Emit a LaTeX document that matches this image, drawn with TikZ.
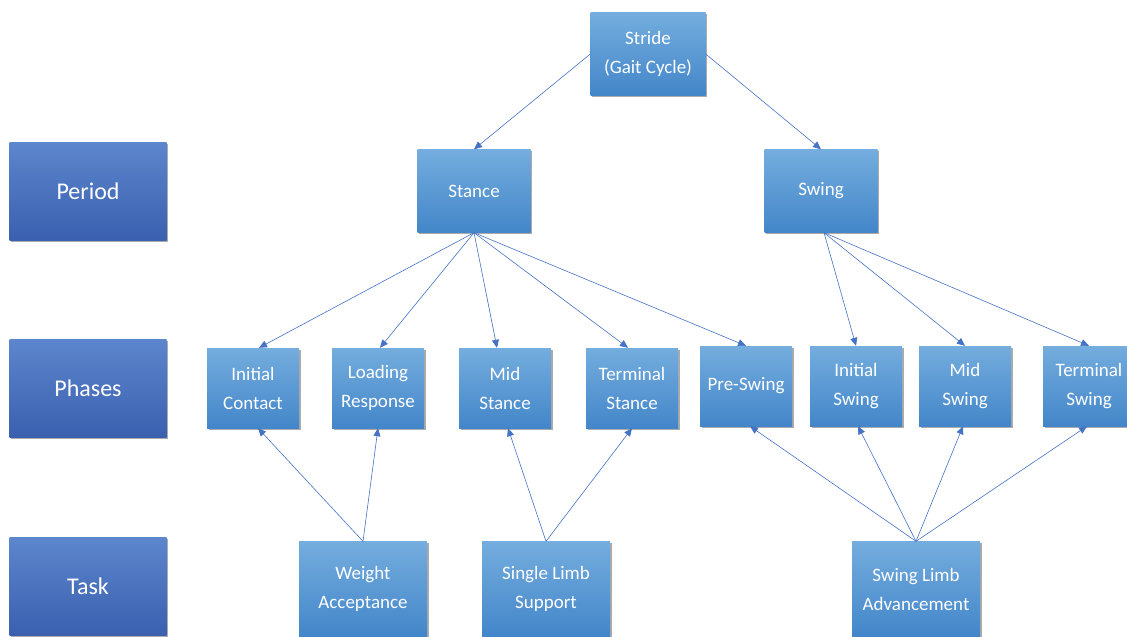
\documentclass[tikz,border=0pt]{standalone}
\usepackage{fontspec}
\setmainfont{Carlito}
\usetikzlibrary{arrows.meta,shadows}

\definecolor{boxtop}{HTML}{74ADDE}
\definecolor{boxbot}{HTML}{4386C9}
\definecolor{labtop}{HTML}{5C86CD}
\definecolor{labbot}{HTML}{3A60AF}
\definecolor{linkblue}{HTML}{4472C4}

\begin{document}
\begin{tikzpicture}%
        [x=1pt, y=-1pt,
        box/.style={inner sep=0pt, align=center, text=white,
          top color=boxtop, bottom color=boxbot,
          drop shadow={shadow xshift=1.5pt, shadow yshift=-1.5pt, fill=black!55, opacity=0.6},
          font=\fontsize{19}{29}\selectfont},
        level/.style={box, top color=labtop, bottom color=labbot,
          minimum width=157pt, minimum height=98pt,
          font=\fontsize{24}{28}\selectfont},
        phase/.style={box, minimum width=92pt, minimum height=80pt},
        task/.style={box, minimum width=128pt, minimum height=95pt},
        link/.style={color=linkblue, line width=0.6pt, -{Triangle[length=8pt,width=7pt]}}]

    \useasboundingbox (0,0) rectangle (1127,637);

    %% Row labels
    \node[level] (period) at (88,191) {Period};
    \node[level] (phases) at (88,388) {Phases};
    \node[level] (task)   at (88,586) {Task};

    %% Stride and periods
    \node[box, minimum width=115pt, minimum height=83pt] (stride) at (648,54) {Stride\\(Gait Cycle)};
    \node[box, minimum width=113pt, minimum height=83pt] (stance) at (474,191) {Stance};
    \node[box, minimum width=113pt, minimum height=83pt] (swing)  at (821,191) {Swing};

    %% Phases
    \node[phase] (ic) at (253,388) {Initial\\Contact};
    \node[phase] (lr) at (378,388) {Loading\\Response};
    \node[phase] (ms) at (505,388) {Mid\\Stance};
    \node[phase] (ts) at (632,388) {Terminal\\Stance};
    \node[phase] (ps) at (746,386) {Pre-Swing};
    \node[phase] (is) at (856,386) {Initial\\Swing};
    \node[phase] (mw) at (965,386) {Mid\\Swing};
    \node[phase] (tw) at (1089,386) {Terminal\\Swing};

    %% Tasks
    \node[task] (wa) at (363,589) {Weight\\Acceptance};
    \node[task] (sl) at (546,589) {Single Limb\\Support};
    \node[task] (sa) at (916,589) {Swing Limb\\Advancement};

    %% Stride to periods
    \draw[link] (stride.west) -- (stance.north);
    \draw[link] (stride.east) -- (swing.north);
    %% Stance to phases
    \draw[link] (stance.south) -- ([xshift=6pt]ic.north);
    \draw[link] (stance.south) -- ([xshift=2pt]lr.north);
    \draw[link] (stance.south) -- ([xshift=-8pt]ms.north);
    \draw[link] (stance.south) -- ([xshift=-4pt]ts.north);
    \draw[link] (stance.south) -- (ps.north);
    %% Swing to phases
    \draw[link] ([xshift=3pt]swing.south) -- (is.north);
    \draw[link] ([xshift=3pt]swing.south) -- (mw.north);
    \draw[link] ([xshift=3pt]swing.south) -- (tw.north);
    %% Tasks to phases
    \draw[link] (wa.north) -- ([xshift=5pt]ic.south);
    \draw[link] (wa.north) -- (lr.south);
    \draw[link] (sl.north) -- ([xshift=3pt]ms.south);
    \draw[link] (sl.north) -- (ts.south);
    \draw[link] (sa.north) -- ([xshift=4pt]ps.south);
    \draw[link] (sa.north) -- ([xshift=2pt]is.south);
    \draw[link] (sa.north) -- ([xshift=-2pt]mw.south);
    \draw[link] (sa.north) -- ([xshift=-2pt]tw.south);
    %%
    \end{tikzpicture}
\end{document}
